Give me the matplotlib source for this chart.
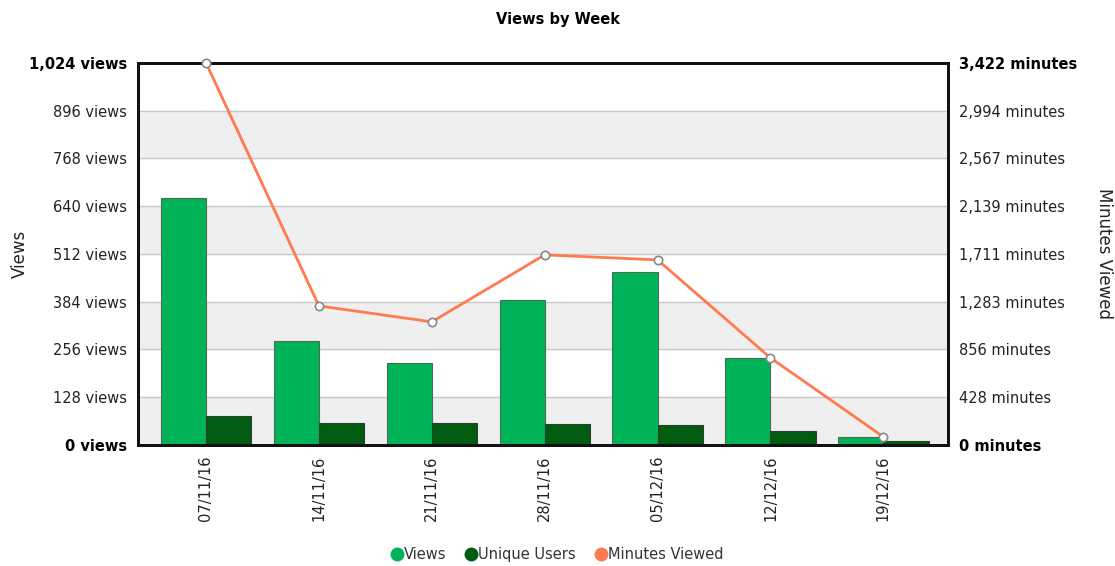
import matplotlib.pyplot as plt
import numpy as np
from matplotlib.lines import Line2D

weeks = ["07/11/16", "14/11/16", "21/11/16", "28/11/16", "05/12/16", "12/12/16", "19/12/16"]
views = [662, 279, 220, 389, 464, 233, 21]
unique_users = [78, 59, 59, 56, 54, 38, 11]
minutes_viewed = [3422, 1245, 1102, 1702, 1657, 779, 72]

view_ticks = [0, 128, 256, 384, 512, 640, 768, 896, 1024]
minute_ticks = [0, 428, 856, 1283, 1711, 2139, 2567, 2994, 3422]

GREEN = "#00b359"
DARK = "#005c10"
CORAL = "#ff7a4f"

plt.rcParams['font.family'] = ['DejaVu Sans']

fig = plt.figure(figsize=(11.15, 5.66), dpi=100)
ax = fig.add_axes([0.124, 0.214, 0.726, 0.675])
ax2 = ax.twinx()

x = np.arange(len(weeks))
w = 0.4

# alternating background bands
for i in range(len(view_ticks) - 1):
    if i % 2 == 0:
        ax.axhspan(view_ticks[i], view_ticks[i + 1], color="#efefef", zorder=0)
for t in view_ticks[1:-1]:
    ax.axhline(t, color="#c8c8c8", lw=1, zorder=0.5)

ax.bar(x - w / 2, views, w, color=GREEN, edgecolor="#4a6b55", linewidth=0.8, zorder=2)
ax.bar(x + w / 2, unique_users, w, color=DARK, edgecolor="#2f3f2f", linewidth=0.8, zorder=2)

ax2.plot(x, minutes_viewed, color=CORAL, lw=2, zorder=3, marker="o", ms=6,
         markerfacecolor="white", markeredgecolor="#888888", markeredgewidth=1.2, clip_on=False)

ax.set_xlim(-0.6, 6.57)
ax.set_ylim(0, 1024)
ax2.set_ylim(0, 3422)

ax.set_yticks(view_ticks)
ax.set_yticklabels([f"{v:,} views" for v in view_ticks], fontsize=10.5, color="#222222")
ax2.set_yticks(minute_ticks)
ax2.set_yticklabels([f"{v:,} minutes" for v in minute_ticks], fontsize=10.5, color="#222222")
for lbls in (ax.get_yticklabels(), ax2.get_yticklabels()):
    lbls[0].set_fontweight("bold")
    lbls[-1].set_fontweight("bold")
    lbls[0].set_color("black")
    lbls[-1].set_color("black")

ax.set_xticks(x)
ax.set_xticklabels(weeks, rotation=90, fontsize=10.5, color="#222222")
ax.tick_params(axis="x", length=0, pad=8)
ax.tick_params(axis="y", length=0, pad=8)
ax2.tick_params(axis="y", length=0, pad=8)

for a in (ax, ax2):
    for s in a.spines.values():
        s.set_linewidth(2)
        s.set_color("#111111")

ax.set_ylabel("Views", fontsize=12, color="#222222", labelpad=0)
ax2.set_ylabel("Minutes Viewed", fontsize=12, color="#222222", rotation=-90, labelpad=26)
fig.text(0.5, 0.965, "Views by Week", ha="center", va="center", fontsize=10.5, fontweight="bold")

handles = [
    Line2D([], [], marker="o", ls="", color=GREEN, ms=9),
    Line2D([], [], marker="o", ls="", color=DARK, ms=9),
    Line2D([], [], marker="o", ls="", color=CORAL, ms=9),
]
fig.legend(handles, ["Views", "Unique Users", "Minutes Viewed"], loc="center",
           bbox_to_anchor=(0.5, 0.02), ncol=3, frameon=False, fontsize=10.5,
           handlelength=0.7, handletextpad=0.1, columnspacing=1.4, labelcolor="#333333")

fig.savefig("out.png", dpi=100)
